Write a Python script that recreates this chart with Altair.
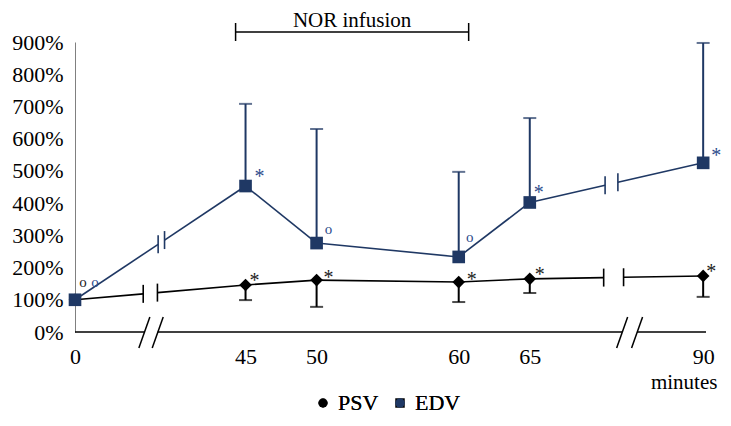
import altair as alt
import pandas as pd

# ---------------- data ----------------
minutes = [0, 45, 50, 60, 65, 90]
psv = [100, 146, 161, 155, 165, 174]
psv_low = [None, 99, 78, 93, 121, 109]          # lower SD bar of PSV
edv = [100, 453, 276, 233, 402, 525]
edv_high = [None, 708, 630, 497, 664, 897]      # upper SD bar of EDV
y_ticks = [0, 100, 200, 300, 400, 500, 600, 700, 800, 900]
series = ["PSV", "EDV"]
colors = {"PSV": "#000000", "EDV": "#1f3864"}
mark_colors = {"PSV": "#222222", "EDV": "#2e4c8c"}

# significance marks: (series, minute, symbol, dx px, dy px of glyph centre)
annotations = [
    ("PSV", 0, "o", 8, -17), ("EDV", 0, "o", 20, -17),
    ("PSV", 45, "*", 9, -8), ("PSV", 50, "*", 12, -6), ("PSV", 60, "*", 13, -6),
    ("PSV", 65, "*", 10, -8), ("PSV", 90, "*", 8, -8),
    ("EDV", 45, "*", 14, -13), ("EDV", 65, "*", 9, -13), ("EDV", 90, "*", 13, -11),
    ("EDV", 50, "o", 12, -13), ("EDV", 60, "o", 11, -19),
]

# ---------------- broken time axis ----------------
gap1 = 33.0     # minutes hidden by the first break
gap2 = 12.8     # minutes hidden by the second break
def pos(m):
    if m < 20:
        return m
    if m < 70:
        return m - gap1
    return m - gap1 - gap2
x_pos = [pos(m) for m in minutes]
x_domain = [0, 44.4]
axis_cuts = [(4.88, 5.82), (38.5, 39.55)]
line_cuts = {"PSV": [(4.8, 5.8), (37.2, 38.6)], "EDV": [(5.85, 6.3), (37.3, 38.2)]}
nor_span = (11.3, 27.7)

W, H = 631, 290
px_x = W / (x_domain[1] - x_domain[0])
px_y = H / 900.0
FONT = "Liberation Serif"

vals = {"PSV": psv, "EDV": edv}

pts = pd.DataFrame([
    {"series": s, "x": x_pos[i], "y": vals[s][i], "minute": minutes[i]}
    for s in series for i in range(len(minutes))
])

seg_rows, tick_rows = [], []
for s in series:
    v = vals[s]
    for i in range(len(minutes) - 1):
        x0, y0, x1, y1 = x_pos[i], v[i], x_pos[i + 1], v[i + 1]
        xs_ = [x0]
        for a, b in line_cuts[s]:
            if x0 < a and b < x1:
                xs_ += [a, b]
        xs_.append(x1)
        yv = lambda x: y0 + (y1 - y0) * (x - x0) / (x1 - x0)
        for k in range(0, len(xs_), 2):
            seg_rows.append({"series": s, "x": xs_[k], "y": yv(xs_[k]),
                             "x2": xs_[k + 1], "y2": yv(xs_[k + 1])})
        for xx in xs_[1:-1]:
            tick_rows.append({"series": s, "x": xx, "y": yv(xx) - 9 / px_y,
                              "y2": yv(xx) + 9 / px_y})
segs = pd.DataFrame(seg_rows)
ticks = pd.DataFrame(tick_rows)

err_rows = []
for i in range(len(minutes)):
    if psv_low[i] is not None:
        err_rows.append({"series": "PSV", "x": x_pos[i], "y": psv[i], "y2": psv_low[i], "cap": psv_low[i]})
    if edv_high[i] is not None:
        err_rows.append({"series": "EDV", "x": x_pos[i], "y": edv[i], "y2": edv_high[i], "cap": edv_high[i]})
errs = pd.DataFrame(err_rows)

ann_rows = []
for s, m, t, dx, dy in annotations:
    i = minutes.index(m)
    lift = 10 if t == "*" else 4
    ann_rows.append({"series": s, "t": t, "x": x_pos[i] + dx / px_x,
                     "y": vals[s][i] - (dy + lift) / px_y,
                     "size": 20 if t == "*" else 15})
ann = pd.DataFrame(ann_rows)

axis_x = [x_domain[0]] + [c for cut in axis_cuts for c in cut] + [x_domain[1]]
axis_df = pd.DataFrame([{"x": axis_x[k], "x2": axis_x[k + 1], "y": 0, "y2": 0}
                        for k in range(0, len(axis_x), 2)])
slash_df = pd.DataFrame([{"x": c - 5.5 / px_x, "y": -16 / px_y, "x2": c + 5.5 / px_x, "y2": 15 / px_y}
                         for cut in axis_cuts for c in cut])

xs = alt.Scale(domain=x_domain, nice=False, zero=False)
ys = alt.Scale(domain=[0, 900], nice=False, zero=False)
col_scale = alt.Scale(domain=series, range=[colors[s] for s in series])

label_expr = " : ".join(
    f"abs(datum.value - {p}) < 0.01 ? '{m}'" for p, m in zip(x_pos, minutes)) + " : ''"

x_axis = alt.Axis(values=x_pos, labelExpr=label_expr, domain=False, ticks=False,
                  grid=False, title=None, labelFont=FONT, labelFontSize=22,
                  labelColor="black", labelPadding=14, labelFlush=False,
                  labelOverlap=False)
y_axis = alt.Axis(values=y_ticks, labelExpr="datum.value + '%'", domain=True,
                  domainColor="#808080", domainWidth=1, ticks=False, grid=False,
                  title=None, labelFont=FONT, labelFontSize=22, labelColor="black",
                  labelPadding=12, labelOverlap=False, labelFlush=False)

def X(f="x"):
    return alt.X(f"{f}:Q", scale=xs, axis=x_axis)

def Y(f="y"):
    return alt.Y(f"{f}:Q", scale=ys, axis=y_axis)

line_layer = alt.Chart(segs).mark_rule(strokeWidth=1.6).encode(
    x=X(), y=Y(), x2="x2:Q", y2="y2:Q",
    color=alt.Color("series:N", scale=col_scale, legend=None))

tick_layer = alt.Chart(ticks).mark_rule(strokeWidth=1.6).encode(
    x=X(), y=Y(), y2="y2:Q",
    color=alt.Color("series:N", scale=col_scale, legend=None))

err_layer = alt.Chart(errs).mark_rule(strokeWidth=2).encode(
    x=X(), y=Y(), y2="y2:Q",
    color=alt.Color("series:N", scale=col_scale, legend=None))

cap_layer = alt.Chart(errs).mark_tick(orient="horizontal", size=13, thickness=2).encode(
    x=X(), y=Y("cap"),
    color=alt.Color("series:N", scale=col_scale, legend=None))

leg = alt.Legend(orient="none", legendX=237, legendY=350,
                 direction="horizontal", title=None,
                 labelFont=FONT, labelFontSize=22, labelColor="black",
                 symbolSize=90, labelOffset=4, columnPadding=10,
                 symbolStrokeWidth=0)
point_layer = alt.Chart(pts).mark_point(filled=True, opacity=1, size=160).encode(
    x=X(), y=Y(),
    color=alt.Color("series:N", scale=col_scale, legend=leg),
    shape=alt.Shape("series:N", scale=alt.Scale(domain=series, range=["diamond", "square"]),
                    legend=leg))

ann_layer = alt.Chart(ann).mark_text(font=FONT, baseline="alphabetic", align="center").encode(
    x=X(), y=Y(), text="t:N",
    size=alt.Size("size:Q", scale=None, legend=None),
    color=alt.Color("series:N", scale=alt.Scale(domain=series, range=[mark_colors[s] for s in series]),
                    legend=None))

axis_layer = alt.Chart(axis_df).mark_rule(color="black", strokeWidth=1.5).encode(
    x=X(), x2="x2:Q", y=Y(), y2="y2:Q")

slash_layer = alt.Chart(slash_df).mark_rule(color="black", strokeWidth=1.5).encode(
    x=X(), x2="x2:Q", y=Y(), y2="y2:Q")

nor_y = (332 - 32) / (332 - 42) * 900
nor_df = pd.DataFrame([{"x": nor_span[0], "x2": nor_span[1], "y": nor_y,
                        "ylo": nor_y - 9 / px_y, "yhi": nor_y + 9 / px_y,
                        "xm": (nor_span[0] + nor_span[1]) / 2, "ty": nor_y + 5 / px_y,
                        "label": "NOR infusion"}])
nor_bar = alt.Chart(nor_df).mark_rule(color="black", strokeWidth=1.5).encode(
    x=X(), x2="x2:Q", y=Y())
nor_l = alt.Chart(nor_df).mark_rule(color="black", strokeWidth=1.5).encode(
    x=X(), y=Y("ylo"), y2="yhi:Q")
nor_r = alt.Chart(nor_df).mark_rule(color="black", strokeWidth=1.5).encode(
    x=X("x2"), y=Y("ylo"), y2="yhi:Q")
nor_t = alt.Chart(nor_df).mark_text(font=FONT, fontSize=21, color="black",
                                    baseline="alphabetic").encode(
    x=X("xm"), y=Y("ty"), text="label:N")

min_df = pd.DataFrame([{"x": x_pos[-1] - 19 / px_x, "y": -51 / px_y, "label": "minutes"}])
min_t = alt.Chart(min_df).mark_text(font=FONT, fontSize=21, color="black",
                                    baseline="middle").encode(
    x=X(), y=Y(), text="label:N")

chart = alt.layer(
    line_layer, axis_layer, slash_layer, tick_layer, err_layer, cap_layer,
    point_layer, ann_layer, nor_bar, nor_l, nor_r, nor_t, min_t
).resolve_scale(color="independent").properties(
    width=W, height=H,
    autosize=alt.AutoSizeParams(type="none"),
    padding={"left": 67, "top": 34, "right": 17, "bottom": 86},
    background="white",
).configure(font=FONT).configure_axis(
    labelFont=FONT, labelFontSize=22, labelColor="black", labelOverlap=False,
    ticks=False, grid=False
).configure_view(stroke=None)

chart.save("out.html", embed_options={"renderer": "svg", "actions": False})
